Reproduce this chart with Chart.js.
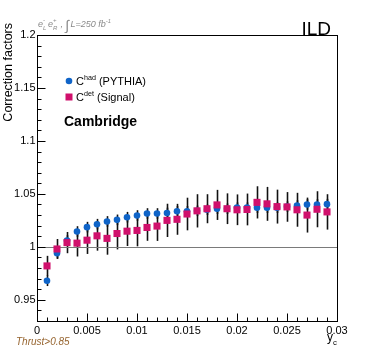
<!DOCTYPE html>
<html>
<head>
<meta charset="utf-8">
<script src="https://cdn.jsdelivr.net/npm/chart.js@4/dist/chart.umd.min.js"></script>
<style>
  html, body { margin: 0; padding: 0; background: #fff; }
  #wrap { width: 374px; height: 357px; }
</style>
</head>
<body>
<div id="wrap"><canvas id="chart" width="374" height="357"></canvas></div>
<script>
// y_c bin centres
const ycValues = [0.001, 0.002, 0.003, 0.004, 0.005, 0.006, 0.007, 0.008, 0.009, 0.010,
  0.011, 0.012, 0.013, 0.014, 0.015, 0.016, 0.017, 0.018, 0.019, 0.020,
  0.021, 0.022, 0.023, 0.024, 0.025, 0.026, 0.027, 0.028, 0.029];

// C^had (PYTHIA)
const cHad = [0.968, 0.994, 1.006, 1.0145, 1.0186, 1.0214, 1.024, 1.0255, 1.028, 1.0296,
  1.0315, 1.0315, 1.032, 1.0336, 1.0336, 1.034, 1.035, 1.036, 1.036, 1.037,
  1.037, 1.037, 1.037, 1.037, 1.038, 1.039, 1.040, 1.040, 1.0403];
const cHadErr = [0.005, 0.005, 0.005, 0.005, 0.005, 0.005, 0.005, 0.005, 0.005, 0.005,
  0.005, 0.005, 0.005, 0.005, 0.005, 0.005, 0.005, 0.005, 0.005, 0.005,
  0.005, 0.005, 0.005, 0.005, 0.005, 0.005, 0.005, 0.005, 0.005];

// C^det (Signal)
const cDet = [0.982, 0.998, 1.004, 1.0035, 1.0063, 1.0104, 1.008, 1.0126, 1.0148, 1.0155,
  1.0183, 1.0196, 1.025, 1.026, 1.031, 1.034, 1.036, 1.0396, 1.036, 1.035,
  1.0353, 1.042, 1.0406, 1.038, 1.0377, 1.035, 1.030, 1.0355, 1.033];
const cDetErr = [0.0095, 0.0094, 0.010, 0.0126, 0.013, 0.014, 0.0154, 0.015, 0.014, 0.015,
  0.0126, 0.014, 0.0157, 0.0146, 0.0154, 0.0157, 0.0137, 0.0142, 0.0145, 0.0145,
  0.015, 0.0152, 0.016, 0.016, 0.014, 0.016, 0.0165, 0.017, 0.0167];

const xTicks = [0, 0.005, 0.01, 0.015, 0.02, 0.025, 0.03];
const xTickLabels = ['0', '0.005', '0.01', '0.015', '0.02', '0.025', '0.03'];
const yTicks = [0.95, 1.0, 1.05, 1.1, 1.15, 1.2];
const yTickLabels = ['0.95', '1', '1.05', '1.1', '1.15', '1.2'];

const BLUE = '#0f64c8';
const MAGENTA = '#d0106c';
const FONT = "'Liberation Sans', Arial, Helvetica, sans-serif";

const toPoints = (ys) => ycValues.map((x, i) => ({ x: x, y: ys[i] }));

// error bars, drawn behind the markers
const errorBars = {
  id: 'errorBars',
  beforeDatasetsDraw(chart) {
    const { ctx, scales: { x, y } } = chart;
    ctx.save();
    ctx.strokeStyle = '#111';
    ctx.lineWidth = 1.6;
    [[cHad, cHadErr], [cDet, cDetErr]].forEach(([vals, errs]) => {
      vals.forEach((v, i) => {
        const px = Math.round(x.getPixelForValue(ycValues[i])) + 0.5;
        ctx.beginPath();
        ctx.moveTo(px, y.getPixelForValue(v - errs[i]));
        ctx.lineTo(px, y.getPixelForValue(v + errs[i]));
        ctx.stroke();
      });
    });
    ctx.restore();
  }
};

// write text with sub/superscript parts: [[text, 'n'|'sub'|'sup'], ...]
function richText(ctx, parts, x, y, size, style) {
  let cx = x;
  parts.forEach(([t, kind]) => {
    let s = size, dy = 0;
    if (kind === 'sup') { s = size * 0.65; dy = -size * 0.45; }
    if (kind === 'sub') { s = size * 0.65; dy = size * 0.3; }
    ctx.font = style + ' ' + s + 'px ' + FONT;
    ctx.fillText(t, cx, y + dy);
    cx += ctx.measureText(t).width;
  });
  return cx;
}

// ROOT style frame, ticks, labels and annotations
const frame = {
  id: 'frame',
  beforeDatasetsDraw(chart) {
    const { ctx, chartArea: a, scales: { y } } = chart;
    ctx.save();
    // line at 1
    ctx.strokeStyle = '#7a7a7a';
    ctx.lineWidth = 1;
    const y1 = Math.round(y.getPixelForValue(1)) + 0.5;
    ctx.beginPath(); ctx.moveTo(a.left, y1); ctx.lineTo(a.right, y1); ctx.stroke();
    ctx.restore();
  },
  afterDraw(chart) {
    const { ctx, chartArea: a, scales: { x, y } } = chart;
    ctx.save();
    ctx.strokeStyle = '#000';
    ctx.lineWidth = 1;
    const L = Math.round(a.left) + 0.5, R = Math.round(a.right) + 0.5;
    const T = Math.round(a.top) + 0.5, B = Math.round(a.bottom) + 0.5;
    ctx.strokeRect(L, T, R - L, B - T);

    // x ticks (inside, pointing up)
    ctx.beginPath();
    for (let k = 0; k <= 30; k++) {
      const px = Math.round(x.getPixelForValue(k / 1000)) + 0.5;
      const len = k % 5 === 0 ? 8 : 4;
      ctx.moveTo(px, B); ctx.lineTo(px, B - len);
    }
    // y ticks (inside, pointing right)
    for (let k = 93; k <= 120; k++) {
      const py = Math.round(y.getPixelForValue(k / 100)) + 0.5;
      const len = k % 5 === 0 ? 8 : 4;
      ctx.moveTo(L, py); ctx.lineTo(L + len, py);
    }
    ctx.stroke();

    ctx.fillStyle = '#000';
    ctx.font = '11px ' + FONT;
    ctx.textAlign = 'center';
    ctx.textBaseline = 'middle';
    xTicks.forEach((v, i) => ctx.fillText(xTickLabels[i], x.getPixelForValue(v), B + 9));
    ctx.textAlign = 'right';
    yTicks.forEach((v, i) => ctx.fillText(yTickLabels[i], L - 2, y.getPixelForValue(v)));

    // axis titles
    ctx.textBaseline = 'alphabetic';
    ctx.textAlign = 'left';
    richText(ctx, [['y', 'n'], ['c', 'sub']], 327, 341, 12, 'normal');
    ctx.save();
    ctx.translate(12, 23);
    ctx.rotate(-Math.PI / 2);
    ctx.textAlign = 'right';
    ctx.font = '12.5px ' + FONT;
    ctx.fillText('Correction factors', 0, 0);
    ctx.restore();

    // ILD
    ctx.font = '19px ' + FONT;
    ctx.textAlign = 'right';
    ctx.fillText('ILD', 331, 35);

    // header
    ctx.textAlign = 'left';
    ctx.fillStyle = '#8a8a8a';
    let hx = richText(ctx, [['e', 'n']], 38, 27, 9, 'italic');
    ctx.font = 'italic 6px ' + FONT;
    ctx.fillText('-', hx, 22); ctx.fillText('L', hx, 30);
    hx += 5;
    hx = richText(ctx, [['e', 'n']], hx, 27, 9, 'italic');
    ctx.font = 'italic 6px ' + FONT;
    ctx.fillText('+', hx, 22); ctx.fillText('R', hx, 30);
    hx += 5;
    hx = richText(ctx, [[' , ', 'n']], hx, 27, 9, 'italic');
    ctx.font = 'italic 14px ' + FONT;
    ctx.fillText('\u222B', hx, 30);
    hx += 5;
    richText(ctx, [['L=250 fb', 'n'], ['-1', 'sup']], hx, 27, 9, 'italic');

    // cut label
    ctx.fillStyle = '#96642f';
    ctx.font = 'italic 10px ' + FONT;
    ctx.fillText('Thrust>0.85', 16, 345);

    // legend
    ctx.fillStyle = BLUE;
    ctx.beginPath(); ctx.arc(69, 81, 3.3, 0, Math.PI * 2); ctx.fill();
    ctx.fillStyle = MAGENTA;
    ctx.fillRect(65.5, 93.5, 7, 7);
    ctx.fillStyle = '#000';
    richText(ctx, [['C', 'n'], ['had', 'sup'], [' (PYTHIA)', 'n']], 76, 85, 11, 'normal');
    richText(ctx, [['C', 'n'], ['det', 'sup'], [' (Signal)', 'n']], 76, 101, 11, 'normal');
    ctx.font = 'bold 14px ' + FONT;
    ctx.fillText('Cambridge', 64, 126);
    ctx.restore();
  }
};

new Chart(document.getElementById('chart'), {
  type: 'scatter',
  data: {
    datasets: [
      {
        label: 'C had (PYTHIA)',
        data: toPoints(cHad),
        pointStyle: 'circle',
        pointRadius: 3.3,
        backgroundColor: BLUE,
        borderWidth: 0,
        order: 2
      },
      {
        label: 'C det (Signal)',
        data: toPoints(cDet),
        pointStyle: 'rect',
        pointRadius: 5,
        backgroundColor: MAGENTA,
        borderWidth: 0,
        order: 1
      }
    ]
  },
  options: {
    responsive: false,
    animation: false,
    layout: { padding: { left: 37, right: 37, top: 35, bottom: 36 } },
    plugins: { legend: { display: false }, tooltip: { enabled: false } },
    scales: {
      x: { type: 'linear', min: 0, max: 0.03, display: false },
      y: { type: 'linear', min: 0.93, max: 1.2, display: false }
    }
  },
  plugins: [errorBars, frame]
});
</script>
</body>
</html>
